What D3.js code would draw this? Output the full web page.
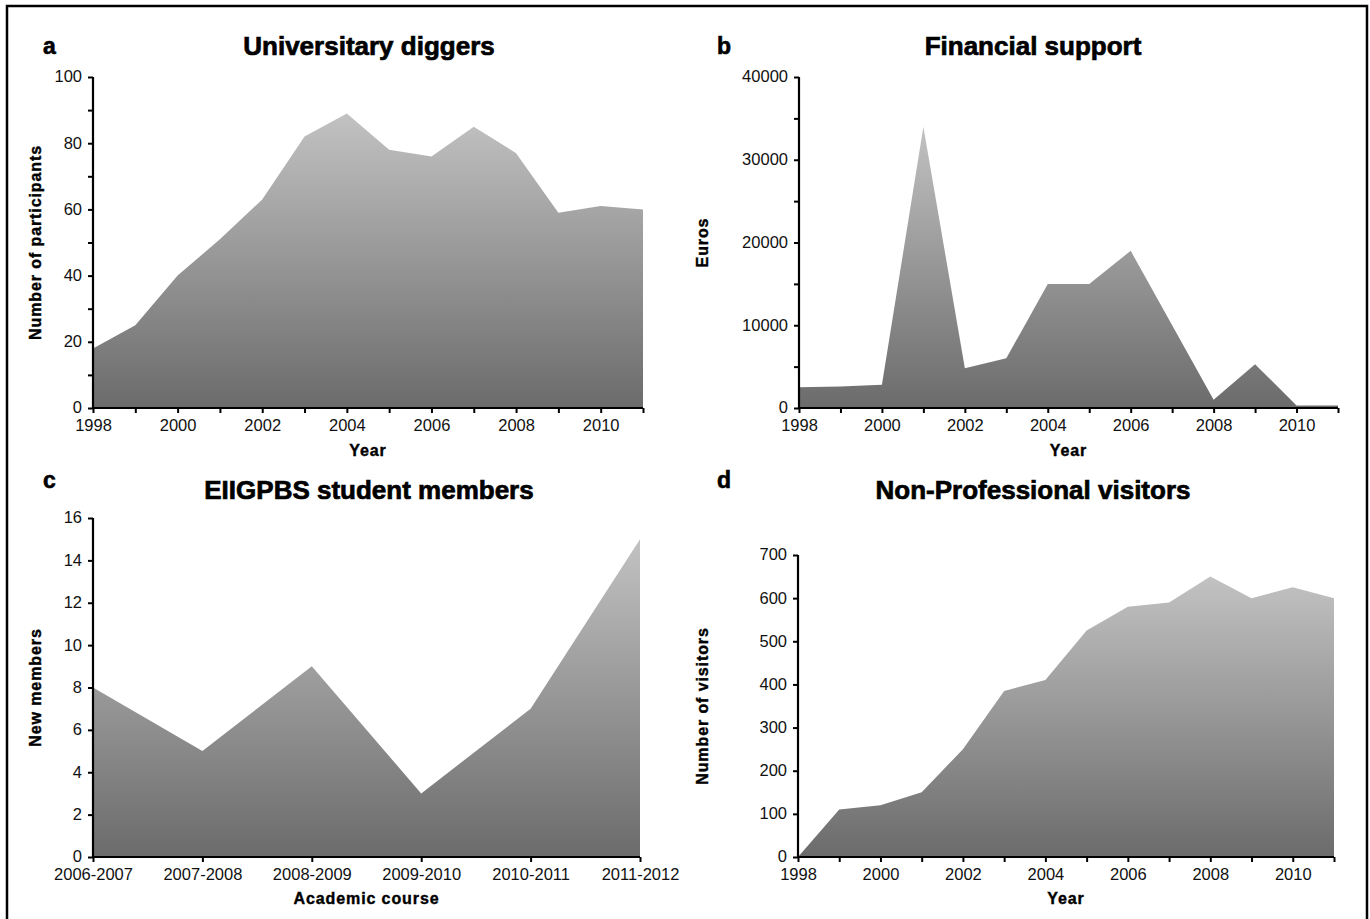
<!DOCTYPE html>
<html>
<head>
<meta charset="utf-8">
<script src="https://cdn.jsdelivr.net/npm/d3@7/dist/d3.min.js"></script>
<style>
  html, body { margin: 0; padding: 0; background: #fff; }
  svg { display: block; }
  .title { font-family: "Liberation Sans", Arial, sans-serif; font-weight: bold; font-size: 26px; fill: #000; stroke: #000; stroke-width: 0.7px; }
  .letter { font-family: "Liberation Sans", Arial, sans-serif; font-weight: bold; font-size: 23px; fill: #000; stroke: #000; stroke-width: 0.6px; }
  .alabel { font-family: "Liberation Sans", Arial, sans-serif; font-weight: bold; font-size: 16px; letter-spacing: 0.9px; fill: #000; stroke: #000; stroke-width: 0.4px; }
</style>
</head>
<body>
<svg id="chart" width="1370" height="919"></svg>
<script>
// ---- Data ----
const years = [1998,1999,2000,2001,2002,2003,2004,2005,2006,2007,2008,2009,2010,2011];
const yearTickLabels = [1998,2000,2002,2004,2006,2008,2010];

const diggers = [18,25,40,51,63,82,89,78,76,85,77,59,61,60];
const euros = [2500,2600,2800,34000,4800,6000,15000,15000,19000,10000,1000,5300,300,300];

const courses = ["2006-2007","2007-2008","2008-2009","2009-2010","2010-2011","2011-2012"];
const newMembers = [8,5,9,3,7,15];

const visitors = [0,110,120,150,250,385,410,525,580,590,650,600,625,600];

const titles = ["Universitary diggers","Financial support","EIIGPBS student members","Non-Professional visitors"];
const letters = ["a","b","c","d"];
const yLabels = ["Number of participants","Euros","New members","Number of visitors"];
const xLabels = ["Year","Year","Academic course","Year"];

// ---- Drawing ----
const svg = d3.select("#chart");

svg.append("path")
  .attr("d", "M7,919 L7,6 L1367,6 L1367,919")
  .attr("fill","none").attr("stroke","#000").attr("stroke-width",2.5);

const defs = svg.append("defs");
const grad = defs.append("linearGradient").attr("id","g")
  .attr("x1",0).attr("y1",0).attr("x2",0).attr("y2",1);
grad.append("stop").attr("offset","0%").attr("stop-color","#c2c2c2");
grad.append("stop").attr("offset","100%").attr("stop-color","#6b6b6b");

const panels = [
  {x0:93, x1:643, y0:408, y1:77, xs: years, vals: diggers, ymax:100, major:20, minor:10,
   titleX:369, titleY:55, letterX:43, letterY:54, ylabX:41, xlabY:456, cat:false},
  {x0:799, x1:1338, y0:408, y1:77, xs: years, vals: euros, ymax:40000, major:10000, minor:5000,
   titleX:1033, titleY:55, letterX:717, letterY:54, ylabX:708, xlabY:456, cat:false},
  {x0:93, x1:640, y0:857, y1:518, xs: courses, vals: newMembers, ymax:16, major:2, minor:2,
   titleX:369, titleY:499, letterX:43, letterY:488, ylabX:41, xlabY:904, cat:true},
  {x0:798, x1:1334, y0:857, y1:555, xs: years, vals: visitors, ymax:700, major:100, minor:100,
   titleX:1033, titleY:499, letterX:717, letterY:488, ylabX:708, xlabY:904, cat:false}
];

panels.forEach((p, i) => {
  const g = svg.append("g");
  let x;
  if (p.cat) {
    x = d3.scalePoint().domain(p.xs).range([p.x0, p.x1]);
  } else {
    x = d3.scaleLinear().domain([d3.min(p.xs), d3.max(p.xs)]).range([p.x0, p.x1]);
  }
  const y = d3.scaleLinear().domain([0, p.ymax]).range([p.y0, p.y1]);

  const data = p.xs.map((d, k) => ({x: d, v: p.vals[k]}));
  const area = d3.area().x(d => x(d.x)).y0(y(0)).y1(d => y(d.v));
  g.append("path").datum(data).attr("d", area).attr("fill","url(#g)");

  const minorTicks = d3.range(0, p.ymax + 1e-9, p.minor);
  const majorTicks = d3.range(0, p.ymax + 1e-9, p.major);
  const yAxis = d3.axisLeft(y).tickValues(minorTicks).tickSize(5).tickPadding(6)
    .tickFormat(d => majorTicks.some(m => Math.abs(m - d) < 1e-9) ? d3.format("d")(d) : "");
  const ya = g.append("g").attr("transform", `translate(${p.x0},0)`).call(yAxis);

  let xAxis;
  if (p.cat) {
    xAxis = d3.axisBottom(x).tickSize(5).tickPadding(6);
  } else {
    xAxis = d3.axisBottom(x).tickValues(p.xs).tickSize(5).tickPadding(6)
      .tickFormat(d => yearTickLabels.includes(d) ? String(d) : "");
  }
  const xa = g.append("g").attr("transform", `translate(0,${p.y0})`).call(xAxis);

  [ya, xa].forEach(a => {
    a.attr("font-family", "'Liberation Sans', Arial, sans-serif").attr("font-size", 16.5);
    a.selectAll(".tick text").attr("fill", "#111");
    a.select(".domain").attr("stroke","#000").attr("stroke-width",2.2);
    a.selectAll(".tick line").attr("stroke","#000").attr("stroke-width",2);
  });
  ya.selectAll(".tick text").attr("dy", "0.3em");
  ya.select(".domain").attr("d", `M-0,${p.y0}V${p.y1}`);
  xa.select(".domain").attr("d", `M${p.x0},0H${p.x1}`);

  g.append("text").attr("class","title").attr("x", p.titleX).attr("y", p.titleY)
    .attr("text-anchor","middle").text(titles[i]);
  g.append("text").attr("class","letter").attr("x", p.letterX).attr("y", p.letterY).text(letters[i]);
  g.append("text").attr("class","alabel")
    .attr("transform", `translate(${p.ylabX},${(p.y0 + p.y1)/2}) rotate(-90)`)
    .attr("text-anchor","middle").text(yLabels[i]);
  g.append("text").attr("class","alabel").attr("x", (p.x0 + p.x1)/2).attr("y", p.xlabY)
    .attr("text-anchor","middle").text(xLabels[i]);
});
</script>
</body>
</html>
